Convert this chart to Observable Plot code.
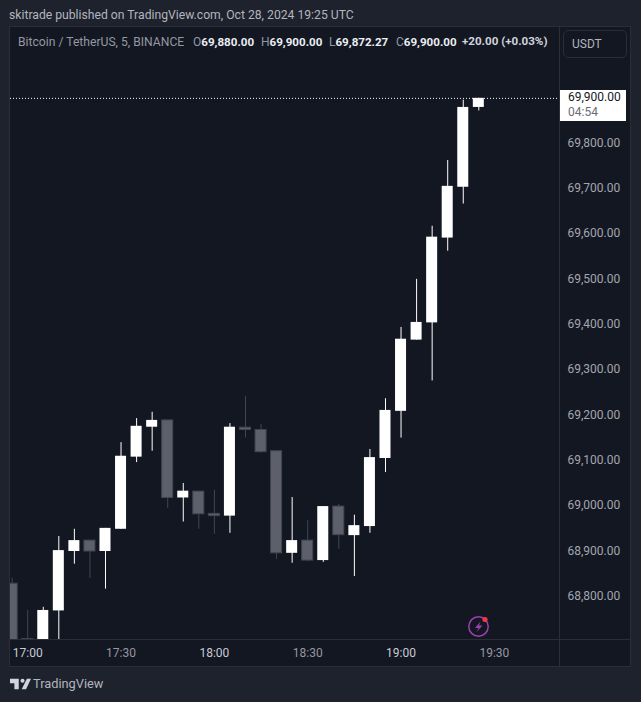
<!DOCTYPE html>
<html><head><meta charset="utf-8">
<script src="https://cdn.jsdelivr.net/npm/d3@7"></script>
<script src="https://cdn.jsdelivr.net/npm/@observablehq/plot@0.6"></script>
<style>
html,body{margin:0;padding:0;background:#1e222d;width:641px;height:702px;overflow:hidden}
body{position:relative;font-family:Roboto,sans-serif}
.a{position:absolute;white-space:pre;line-height:1}
#panel{position:absolute;left:10px;top:27px;width:620px;height:639px;background:#131722;outline:1px solid #2a2e39}
#chart{position:absolute;left:0;top:0}
#chart svg{background:transparent!important;display:block}
b{font-weight:700;color:#eceef2;font-size:11.6px}
</style></head><body>
<div id="panel"></div>
<div id="chart"></div>
<div class="a" style="left:9px;top:9px;font-size:12.18px;color:#b2b5be">skitrade published on TradingView.com, Oct 28, 2024 19:25 UTC</div>
<div class="a" style="left:18px;top:36px;font-size:12.15px;color:#9598a1">Bitcoin / TetherUS, 5, BINANCE</div>
<div class="a" style="left:193px;top:36px;font-size:12px;color:#9598a1">O<b>69,880.00</b></div>
<div class="a" style="left:261px;top:36px;font-size:12px;color:#9598a1">H<b>69,900.00</b></div>
<div class="a" style="left:329px;top:36px;font-size:12px;color:#9598a1">L<b>69,872.27</b></div>
<div class="a" style="left:396px;top:36px;font-size:12px;color:#9598a1">C<b>69,900.00</b></div>
<div class="a" style="left:462px;top:36px;font-size:11.6px;color:#d1d4dc;font-weight:700">+20.00 (+0.03%)</div>
<div class="a" style="left:563px;top:30px;width:62px;height:26px;border:1px solid #2a2e39;border-radius:5px"></div>
<div class="a" style="left:572px;top:38px;font-size:12px;color:#b2b5be">USDT</div>
<div class="a" style="left:560px;top:90px;width:66px;height:31px;background:#fff"></div>
<div class="a" style="left:568px;top:91px;font-size:12px;color:#131722">69,900.00</div>
<div class="a" style="left:568px;top:106px;font-size:12px;color:#6a6d78">04:54</div>
<svg class="a" style="left:466px;top:614px" width="26" height="26" viewBox="0 0 26 26">
<circle cx="12.5" cy="12.5" r="9.7" fill="none" stroke="#9c3fb0" stroke-width="1.5"/>
<path d="M14.5 7.5 L9 14 H12.5 L10.5 18 L16.5 11.5 H13 Z" fill="#9c3fb0"/>
<circle cx="19" cy="5.5" r="2.6" fill="#f23645"/></svg>
<svg class="a" style="left:10px;top:678px" width="21" height="12" viewBox="0 0 36 20">
<path d="M0 1H15V19H7.5V8.5H0Z M29 1H36L27.5 19H20Z" fill="#d1d4dc"/><circle cx="21.5" cy="4.5" r="3.5" fill="#d1d4dc"/></svg>
<div class="a" style="left:33px;top:678px;font-size:12.8px;color:#b2b5be">TradingView</div>
<script>
const times = ["16:55","17:00","17:05","17:10","17:15","17:20","17:25","17:30","17:35","17:40","17:45","17:50","17:55","18:00","18:05","18:10","18:15","18:20","18:25","18:30","18:35","18:40","18:45","18:50","18:55","19:00","19:05","19:10","19:15","19:20","19:25"];
const opens  = [68830,68708,68680,68770,68901,68925,68901,68950,69109,69175,69190,69019,69033,68984,68979,69174,69169,69122,68897,68925,68881,69000,68936,68956,69106,69210,69367,69405,69592,69704,69880];
const highs  = [68842,68771,68778,68934,68950,68925,68952,69141,69194,69208,69190,69051,69033,69036,69183,69243,69181,69122,69020,68969,69000,69005,68981,69126,69238,69395,69501,69618,69763,69896,69900];
const lows   = [68660,68690,68670,68660,68873,68842,68818,68950,69097,69122,68996,68966,68950,68939,68941,69151,69118,68884,68875,68879,68877,68906,68846,68941,69075,69151,69367,69277,69563,69667,69872.27];
const closes = [68683,68702,68771,68903,68925,68901,68952,69111,69177,69190,69019,69034,68983,68979,69175,69169,69120,68897,68925,68881,69000,68937,68958,69108,69212,69369,69406,69594,69706,69880,69900];
const priceTicks = [68800,68900,69000,69100,69200,69300,69400,69500,69600,69700,69800];
const hourTicks = ["17:00","18:00","19:00"];
const halfTicks = ["17:30","18:30","19:30"];

const T = s => new Date(`2024-10-28T${s}Z`);
const candles = times.map((t,i)=>({t:T(t+":00"),o:opens[i],h:highs[i],l:lows[i],c:closes[i],up:closes[i]>=opens[i]}));
const halfW = 1.77*60000;
const body = candles.map(d=>({...d,x1:new Date(+d.t-halfW),x2:new Date(+d.t+halfW),top:Math.max(d.o,d.c),bot:Math.min(d.o,d.c)}));
const up = body.filter(d=>d.up), dn = body.filter(d=>!d.up);
const fmt = d3.format(",.2f");
const tick = {fontSize:12,fontFamily:"Roboto"};
const hm = d3.utcFormat("%H:%M");

const plot = Plot.plot({
  width:641,height:702,
  marginTop:28,marginBottom:63,marginLeft:10,marginRight:82,
  style:{background:"transparent"},
  x:{type:"utc",domain:[T("16:54:28"),T("19:50:56")],range:[10,559]},
  y:{domain:[68707,70054],range:[639,28]},
  marks:[
    Plot.ruleY([69900],{stroke:"#fff",strokeDasharray:"1 2",strokeWidth:1}),
    Plot.ruleX(dn,{x:"t",y1:"l",y2:"h",stroke:"#434651",strokeWidth:1,clip:true}),
    Plot.ruleX(up,{x:"t",y1:"l",y2:"h",stroke:"#fff",strokeWidth:1,clip:true}),
    Plot.rect(dn,{x1:"x1",x2:"x2",y1:"bot",y2:"top",fill:"#5d606b",stroke:"#434651",strokeWidth:1,clip:true}),
    Plot.rect(up,{x1:"x1",x2:"x2",y1:"bot",y2:"top",fill:"#fff",clip:true}),
    Plot.axisY(priceTicks,{anchor:"right",tickSize:0,tickPadding:8,textAnchor:"start",tickFormat:fmt,label:null,fill:"#a3a6af",dy:-1,...tick}),
    Plot.axisX(hourTicks.map(h=>T(h+":00")),{anchor:"bottom",tickSize:0,tickPadding:8,tickFormat:hm,label:null,fill:"#c8cbd3",dy:1,...tick}),
    Plot.axisX(halfTicks.map(h=>T(h+":00")),{anchor:"bottom",tickSize:0,tickPadding:8,tickFormat:hm,label:null,fill:"#9598a1",dy:1,...tick})
  ]
});
document.getElementById("chart").appendChild(plot);
const ns="http://www.w3.org/2000/svg";
const mk=(x1,y1,x2,y2)=>{const l=document.createElementNS(ns,"line");for(const [k,v] of Object.entries({x1,y1,x2,y2,stroke:"#2a2e39"}))l.setAttribute(k,v);plot.appendChild(l);};
mk(10,639.5,630,639.5);mk(559.5,27,559.5,666);
</script>
</body></html>
